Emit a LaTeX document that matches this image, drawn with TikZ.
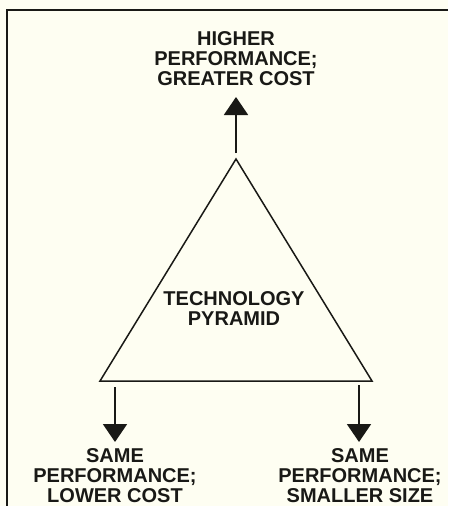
\documentclass[tikz,border=0pt]{standalone}
\usepackage{fontspec}
\setmainfont{Liberation Sans}
\usetikzlibrary{arrows.meta}
\definecolor{paper}{RGB}{254,254,242}
\definecolor{ink}{RGB}{25,25,22}
\tikzset{
  lbl/.style={font=\fontsize{20}{20}\selectfont\bfseries, align=center, inner sep=0pt, anchor=north, text=ink},
  arr/.style={draw=ink, line width=2pt, -{Triangle[width=24pt,length=18pt]}},
  pyr/.style={draw=ink, line width=1.5pt, line join=miter},
  frame/.style={draw=ink, line width=2pt}
}
\begin{document}
\begin{tikzpicture}[x=1pt,y=-1pt]
\fill[paper] (0,0) rectangle (448,506);
\useasboundingbox (0,0) rectangle (448,506);
\coordinate (fb) at (7,506);
\coordinate (ftl) at (7,10);
\coordinate (ftr) at (448,10);
\draw[frame] (fb) -- (ftl) -- (ftr);
\coordinate (apex) at (236,159);
\coordinate (bl) at (100,381);
\coordinate (br) at (372,381);
\draw[pyr] (apex) -- (bl) -- (br) -- cycle;
\node[lbl] (tech) at (234,291) {TECHNOLOGY\\PYRAMID};
\node[lbl] (top) at (236,31.5) {HIGHER\\PERFORMANCE;\\GREATER COST};
\node[lbl] (left) at (115,448) {SAME\\PERFORMANCE;\\LOWER COST};
\node[lbl] (right) at (360,448) {SAME\\PERFORMANCE;\\SMALLER SIZE};
\coordinate (ta) at (236,153);
\coordinate (tt) at (236,97);
\coordinate (la) at (115,387);
\coordinate (lt) at (115,442);
\coordinate (ra) at (359,385);
\coordinate (rt) at (359,442);
\draw[arr] (ta) -- (tt);
\draw[arr] (la) -- (lt);
\draw[arr] (ra) -- (rt);
\end{tikzpicture}
\end{document}
